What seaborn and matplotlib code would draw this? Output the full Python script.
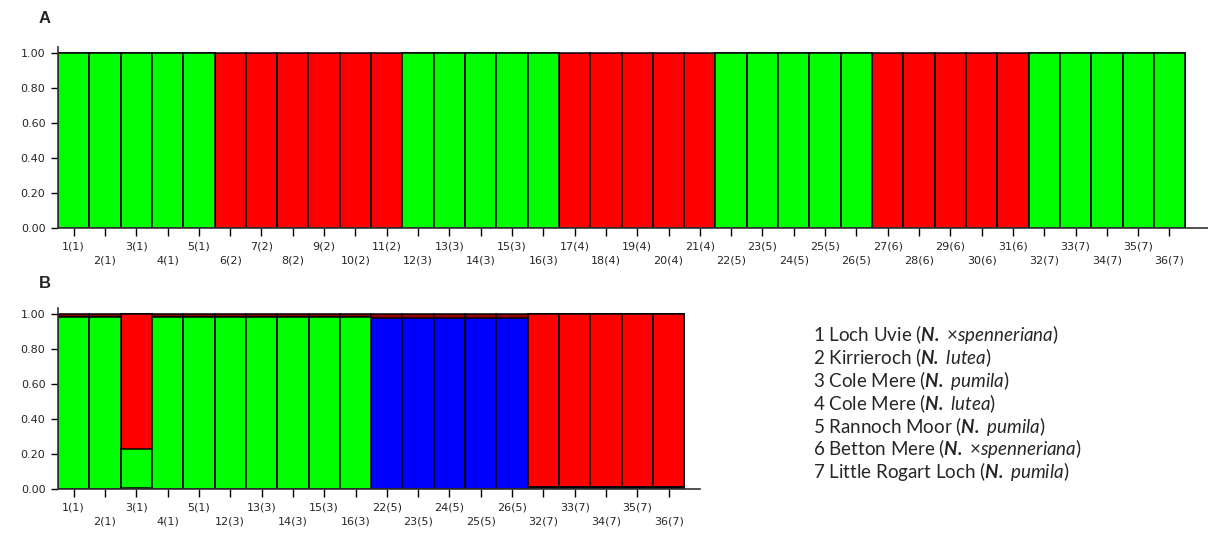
import numpy as np
import matplotlib
matplotlib.use("Agg")
import matplotlib.pyplot as plt
import seaborn as sns

sns.set_style("ticks")
plt.rcParams["font.family"] = ["DejaVu Sans"]
plt.rcParams["mathtext.fontset"] = "custom"
plt.rcParams["mathtext.rm"] = "Lato"
plt.rcParams["mathtext.it"] = "Lato:italic"
plt.rcParams["mathtext.bf"] = "Lato:bold:italic"

# Panel A: 36 individuals, K=2 (green / red)
labels_a = ["1(1)", "2(1)", "3(1)", "4(1)", "5(1)",
            "6(2)", "7(2)", "8(2)", "9(2)", "10(2)", "11(2)",
            "12(3)", "13(3)", "14(3)", "15(3)", "16(3)",
            "17(4)", "18(4)", "19(4)", "20(4)", "21(4)",
            "22(5)", "23(5)", "24(5)", "25(5)", "26(5)",
            "27(6)", "28(6)", "29(6)", "30(6)", "31(6)",
            "32(7)", "33(7)", "34(7)", "35(7)", "36(7)"]
green_a = [1, 1, 1, 1, 1, 0, 0, 0, 0, 0, 0, 1, 1, 1, 1, 1, 0, 0, 0, 0, 0,
           1, 1, 1, 1, 1, 0, 0, 0, 0, 0, 1, 1, 1, 1, 1]
red_a = [1 - g for g in green_a]

# Panel B: 20 individuals, K=5
labels_b = ["1(1)", "2(1)", "3(1)", "4(1)", "5(1)",
            "12(3)", "13(3)", "14(3)", "15(3)", "16(3)",
            "22(5)", "23(5)", "24(5)", "25(5)", "26(5)",
            "32(7)", "33(7)", "34(7)", "35(7)", "36(7)"]
black_b = [0, 0, 0.005, 0, 0, 0, 0, 0, 0, 0,
           0, 0, 0, 0, 0, 0.01, 0.01, 0.01, 0.01, 0.01]
green_b = [0.985, 0.985, 0.225, 0.985, 0.985, 0.985, 0.985, 0.985, 0.985, 0.985,
           0, 0, 0, 0, 0, 0, 0, 0, 0, 0]
red_b = [0, 0, 0.77, 0, 0, 0, 0, 0, 0, 0,
         0, 0, 0, 0, 0, 0.99, 0.99, 0.99, 0.99, 0.99]
blue_b = [0, 0, 0, 0, 0, 0, 0, 0, 0, 0,
          0.975, 0.975, 0.975, 0.975, 0.975, 0, 0, 0, 0, 0]
darkred_b = [0.015, 0.015, 0, 0.015, 0.015, 0.015, 0.015, 0.015, 0.015, 0.015,
             0.025, 0.025, 0.025, 0.025, 0.025, 0, 0, 0, 0, 0]

populations = [
    ("1 Loch Uvie", "\u00d7spenneriana"),
    ("2 Kirrieroch", "lutea"),
    ("3 Cole Mere", "pumila"),
    ("4 Cole Mere", "lutea"),
    ("5 Rannoch Moor", "pumila"),
    ("6 Betton Mere", "\u00d7spenneriana"),
    ("7 Little Rogart Loch", "pumila"),
]


def stacked(ax, labels, parts, colors):
    # draw cumulative sums largest first so each layer covers the one below
    cum = np.cumsum(np.array(parts, dtype=float), axis=0)
    for i in range(len(parts) - 1, -1, -1):
        sns.barplot(x=labels, y=cum[i], color=colors[i], saturation=1,
                    width=1, edgecolor="black", linewidth=1.1,
                    errorbar=None, ax=ax)


def style_axis(ax, labels, xmax):
    ax.set_xlim(-0.5, xmax)
    ax.set_ylim(0, 1.034)
    ax.set_yticks([0, 0.2, 0.4, 0.6, 0.8, 1.0])
    ax.set_yticklabels([f"{v:.2f}" for v in [0, 0.2, 0.4, 0.6, 0.8, 1.0]], fontsize=8)
    ax.set_xticks(range(len(labels)))
    ax.set_xticklabels([lab if i % 2 == 0 else "\n" + lab for i, lab in enumerate(labels)],
                       fontsize=8, linespacing=1.5)
    ax.tick_params(axis="x", length=6, width=1, pad=4, color="black")
    ax.tick_params(axis="y", length=5, width=1, pad=4, color="black")
    for side in ["top", "right"]:
        ax.spines[side].set_visible(False)
    for side in ["left", "bottom"]:
        ax.spines[side].set_linewidth(1.2)
        ax.spines[side].set_color("#333333")
    ax.set_xlabel("")
    ax.set_ylabel("")


fig = plt.figure(figsize=(12.08, 5.36), dpi=100)

ax_a = fig.add_axes([0.048, 0.5746, 0.952, 0.3377])
stacked(ax_a, labels_a, [green_a, red_a], ["#00ff00", "#ff0000"])
style_axis(ax_a, labels_a, 36.23)

ax_b = fig.add_axes([0.048, 0.0877, 0.5315, 0.3377])
stacked(ax_b, labels_b, [black_b, green_b, red_b, blue_b, darkred_b],
        ["#000000", "#00ff00", "#ff0000", "#0000ff", "#990000"])
style_axis(ax_b, labels_b, 20.0)

fig.text(0.032, 0.966, "A", fontsize=12, fontweight="bold",
         family="Liberation Sans", va="center", ha="left")
fig.text(0.032, 0.472, "B", fontsize=12, fontweight="bold",
         family="Liberation Sans", va="center", ha="left")

for i, (site, species) in enumerate(populations):
    y = 1 - (335 + 22.8 * i) / 536
    fig.text(0.673, y, site + r" ($\mathbf{N.}$ $\mathit{" + species + "}$)",
             fontsize=13.5, family="Lato", va="center", ha="left")

fig.savefig("out.png", dpi=100)
